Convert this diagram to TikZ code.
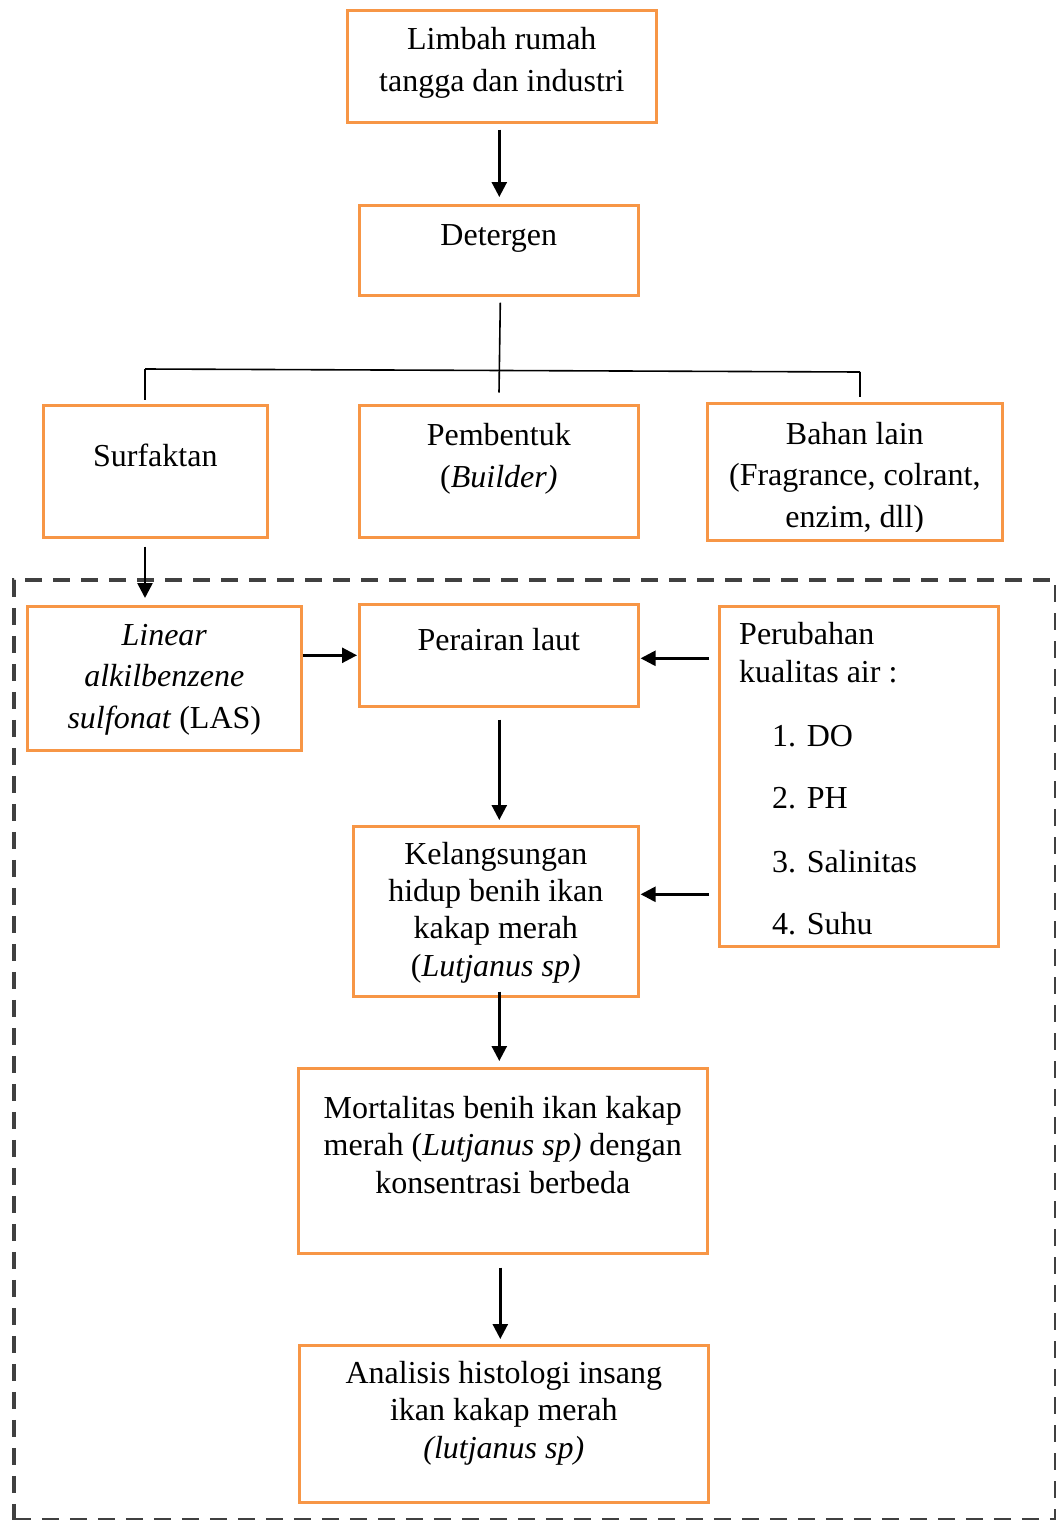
\documentclass[tikz,border=0pt]{standalone}
\usepackage{fontspec}
\setmainfont{Liberation Serif}
\usetikzlibrary{arrows.meta,calc}
\definecolor{boxorange}{HTML}{F79646}
\definecolor{dashgray}{HTML}{404040}
\tikzset{
  box/.style={draw=boxorange, line width=2.6pt, rectangle, inner sep=0pt, anchor=north west},
  frame/.style={draw=dashgray, line width=3.8pt, dash pattern=on 17pt off 11pt, rectangle, inner sep=0pt, anchor=north west},
  txtA/.style={font=\fontsize{32}{41.5}\selectfont, align=center, inner sep=0pt, anchor=base},
  txtB/.style={font=\fontsize{32}{37.3}\selectfont, align=center, inner sep=0pt, anchor=base},
  arr/.style={draw=black, line width=2.6pt, -{Triangle[length=15pt,width=15pt]}},
  ln/.style={draw=black, line width=1.6pt},
}
\begin{document}
\begin{tikzpicture}[x=1pt,y=-1pt]
\useasboundingbox (0,0) rectangle (1055,1520);
% dashed frame
\node[frame, minimum width=1042pt, minimum height=940pt] (frame) at (12,578) {};
% boxes
\node[box, minimum width=309pt, minimum height=112pt] (lim) at (346,9) {};
\node[box, minimum width=279pt, minimum height=90pt] (det) at (358,204) {};
\node[box, minimum width=224pt, minimum height=132pt] (surf) at (42,404) {};
\node[box, minimum width=279pt, minimum height=132pt] (pemb) at (358,404) {};
\node[box, minimum width=295pt, minimum height=137pt] (bahan) at (706,402) {};
\node[box, minimum width=274pt, minimum height=144pt] (las) at (26,605) {};
\node[box, minimum width=279pt, minimum height=102pt] (per) at (358,603) {};
\node[box, minimum width=279pt, minimum height=340pt] (pk) at (718,605) {};
\node[box, minimum width=285pt, minimum height=170pt] (kel) at (352,825) {};
\node[box, minimum width=409pt, minimum height=185pt] (mort) at (297,1067) {};
\node[box, minimum width=409pt, minimum height=157pt] (ana) at (298,1344) {};
% texts (base anchor = baseline of the last line)
\node[txtA] (limT) at (lim.center |- 0,91) {Limbah rumah\\tangga dan industri};
\node[txtA] (detT) at (det.center |- 0,245) {Detergen};
\node[txtA] (surfT) at (surf.center |- 0,466) {Surfaktan};
\node[txtA] (pembT) at (pemb.center |- 0,487) {Pembentuk\\(\textit{Builder)}};
\begin{scope}
  \clip (706,402) rectangle (1001,531);
  \node[txtA] (bahT) at (bahan.center |- 0,527) {Bahan lain\\(Fragrance, colrant,\\enzim, dll)};
\end{scope}
\node[txtA] (lasT) at (las.center |- 0,728) {\textit{Linear}\\\textit{alkilbenzene}\\\textit{sulfonat} (LAS)};
\node[txtA] (perT) at (per.center |- 0,650) {Perairan laut};
\node[txtB, align=left, anchor=base west] (pkT) at (739,934) {Perubahan\\kualitas air :\\[26.7pt]\hspace*{33pt}1. DO\\[24.7pt]\hspace*{33pt}2. PH\\[26.7pt]\hspace*{33pt}3. Salinitas\\[24.7pt]\hspace*{33pt}4. Suhu};
\node[txtB] (kelT) at (kel.center |- 0,976) {Kelangsungan\\hidup benih ikan\\kakap merah\\(\textit{Lutjanus sp)}};
\node[txtB] (mortT) at (mort.center |- 0,1193) {Mortalitas benih ikan kakap\\merah (\textit{Lutjanus sp)} dengan\\konsentrasi berbeda};
\node[txtB] (anaT) at (ana.center |- 0,1458) {Analisis histologi insang\\ikan kakap merah\\\textit{(lutjanus sp)}};
% connectors
\draw[arr] ($(det.north |- lim.south)+(0.5,6)$) -- ($(det.north)+(0.5,-7)$);
\coordinate (jL) at (145,369);
\coordinate (jR) at (860,372);
\coordinate (jM) at (499,370.5);
\draw[ln] ($(det.south)+(1.5,6)$) -- ($(jM)+(0,22)$);
\draw[ln] (jL) -- (jR);
\draw[ln] (jL) -- ($(jL)+(0,31)$);
\draw[ln] (jR) -- ($(jR)+(0,25)$);
\draw[arr] ($(surf.south -| jL)+(0,8)$) -- ($(las.north -| jL)+(0,-7)$);
\draw[arr] (las.east |- per.west) -- ($(per.west)+(-1,0)$);
\draw[arr] ($(pk.west |- per.east)+(-9,3)$) -- ($(per.east)+(1,3)$);
\draw[arr] ($(pk.west |- kel.east)+(-9,-17)$) -- ($(kel.east)+(1,-17)$);
\draw[arr] ($(per.south)+(0.5,12)$) -- ($(kel.north -| per.south)+(0.5,-5)$);
\draw[arr] ($(kel.south -| per.south)+(0.5,-6)$) -- ($(mort.north -| per.south)+(0.5,-6)$);
\draw[arr] ($(mort.south -| per.south)+(1.5,13)$) -- ($(ana.north -| per.south)+(1.5,-5)$);
\end{tikzpicture}
\end{document}
